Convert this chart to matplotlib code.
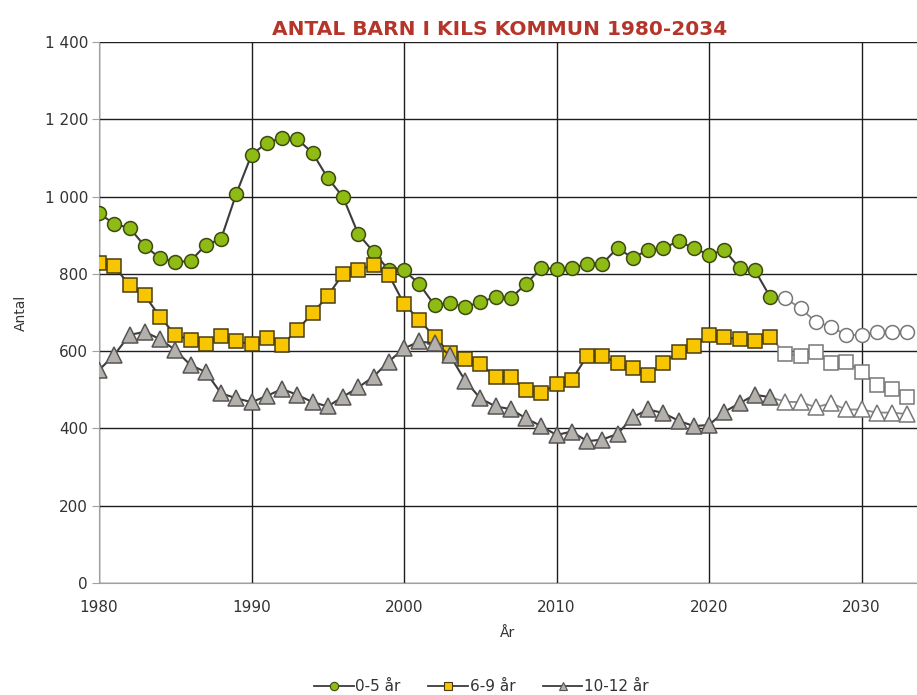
import matplotlib
matplotlib.use("Agg")
import matplotlib.pyplot as plt
from matplotlib.ticker import FuncFormatter
from matplotlib.lines import Line2D

# observed years 1980-2024, projection 2024-2034 (shown open)
years_obs = list(range(1980, 2025))
years_proj = list(range(2024, 2034))

age_0_5 = [957, 929, 919, 872, 841, 831, 833, 875, 890, 1007,
           1108, 1139, 1152, 1149, 1113, 1048, 999, 903, 857, 810,
           809, 774, 719, 725, 714, 727, 740, 737, 774, 815,
           813, 815, 826, 826, 867, 841, 862, 867, 884, 867,
           849, 862, 815, 810, 741]
age_0_5_proj = [741, 737, 711, 676, 663, 642, 642, 650, 650, 650]

age_6_9 = [827, 820, 770, 744, 689, 642, 629, 619, 639, 625,
           618, 633, 616, 655, 698, 743, 800, 810, 823, 798,
           722, 681, 637, 595, 580, 567, 534, 532, 499, 491,
           515, 525, 587, 588, 569, 556, 538, 569, 597, 613,
           642, 636, 631, 627, 637]
age_6_9_proj = [637, 593, 588, 599, 569, 573, 547, 512, 501, 482]

age_10_12 = [551, 590, 642, 650, 631, 603, 564, 546, 491, 478,
             468, 484, 502, 487, 468, 457, 482, 506, 534, 573,
             607, 625, 620, 590, 524, 478, 457, 450, 426, 406,
             383, 392, 367, 371, 386, 429, 449, 440, 420, 406,
             409, 443, 465, 487, 481]
age_10_12_proj = [481, 469, 468, 455, 465, 449, 449, 441, 441, 437]

labels = ["0-5 år", "6-9 år", "10-12 år"]

fig = plt.figure(figsize=(9.17, 6.95), dpi=100)
ax = fig.add_axes([99 / 917, 112 / 695, 818 / 917, 541 / 695])

line_col = "#3c3c3c"
styles = [
    ("o", "#8fbc14", "#3d4a10", 10),
    ("s", "#f7c600", "#4a3d10", 10),
    ("^", "#b4b0ac", "#555555", 11),
]
series = [(age_0_5, age_0_5_proj), (age_6_9, age_6_9_proj), (age_10_12, age_10_12_proj)]

for (obs, proj), (mk, fc, ec, ms) in zip(series, styles):
    ax.plot(years_proj, proj, color="#888888", lw=1.3, zorder=3)
    ax.plot(years_proj[1:], proj[1:], ls="none", marker=mk, ms=ms,
            mfc="white", mec="#777777", mew=1.1, zorder=4)
    ax.plot(years_obs, obs, color=line_col, lw=1.5, marker=mk, ms=ms,
            mfc=fc, mec=ec, mew=1.1, zorder=5)

ax.set_xlim(1980, 1980 + 818 / 15.25)
ax.set_ylim(0, 1400)
ax.set_xticks(range(1980, 2031, 10))
ax.set_yticks(range(0, 1401, 200))
ax.yaxis.set_major_formatter(FuncFormatter(lambda v, p: f"{int(v):,}".replace(",", " ")))
ax.grid(True, color="#1e1e1e", lw=1.0, zorder=0)
ax.set_axisbelow(True)
for s in ["top", "right"]:
    ax.spines[s].set_visible(False)
for s in ["left", "bottom"]:
    ax.spines[s].set_color("#a0a0a0")
ax.tick_params(axis="y", length=5, color="#a0a0a0", labelsize=11, labelcolor="#333333", pad=3)
ax.tick_params(axis="x", length=0, labelsize=11, labelcolor="#333333", pad=12)

ax.set_ylabel("Antal", fontsize=10, color="#333333", labelpad=12)
ax.set_xlabel("År", fontsize=10, color="#333333", labelpad=8)

fig.text(0.545, 0.958, "ANTAL BARN I KILS KOMMUN 1980-2034", ha="center", va="center",
         fontsize=14.5, fontweight="bold", color="#b5352a")

handles = [Line2D([], [], color=line_col, lw=1.3, marker=mk, ms=6, mfc=fc, mec=ec, mew=0.8)
           for (mk, fc, ec, ms) in styles]
fig.legend(handles, labels, loc="center", bbox_to_anchor=(0.525, 0.012), ncol=3,
           frameon=False, fontsize=11, handlelength=2.6, handletextpad=0.1, columnspacing=1.8,
           labelcolor="#333333")

fig.savefig("out.png", dpi=100)
